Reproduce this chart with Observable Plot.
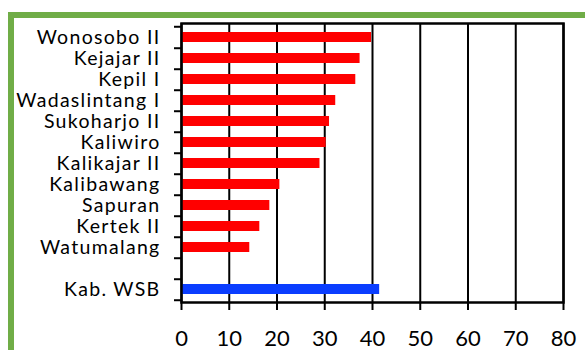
<!DOCTYPE html>
<html>
<head>
<meta charset="utf-8">
<script src="https://cdn.jsdelivr.net/npm/d3@7"></script>
<script src="https://cdn.jsdelivr.net/npm/@observablehq/plot@0.6"></script>
<style>
  html, body { margin: 0; padding: 0; background: #fff; overflow: hidden; }
  #wrap { position: relative; width: 585px; height: 350px; }
  #border { position: absolute; left: 7.5px; top: 12px; width: 700px; height: 500px;
            border-left: 6px solid #70AD47; border-top: 6px solid #70AD47; box-sizing: border-box; }
  #chart { position: absolute; left: 0; top: 0; }
  .ylab text { letter-spacing: 1.3px; }
</style>
</head>
<body>
<div id="wrap"><div id="border"></div><div id="chart"></div></div>
<script>
const districts = ["Wonosobo II", "Kejajar II", "Kepil I", "Wadaslintang I", "Sukoharjo II", "Kaliwiro", "Kalikajar II", "Kalibawang", "Sapuran", "Kertek II", "Watumalang"];
const districtValues = [39.8, 37.4, 36.5, 32.3, 31.0, 30.3, 29.0, 20.6, 18.5, 16.4, 14.3];
const regionLabel = "Kab. WSB";
const regionValue = 41.5;
const spacer = " ";
const xTicks = [0, 10, 20, 30, 40, 50, 60, 70, 80];

const data = districts.map((name, i) => ({name, value: districtValues[i], group: "district"}))
  .concat([{name: regionLabel, value: regionValue, group: "region"}]);
const yDomain = districts.concat([spacer, regionLabel]);

const W = 585, H = 350, mT = 23, mB = 48, mL = 181, mR = 22;
const step = (H - mT - mB) / yDomain.length;

const plot = Plot.plot({
  width: W, height: H,
  marginLeft: mL, marginRight: mR, marginTop: mT, marginBottom: mB,
  style: {fontFamily: "Lato, 'Open Sans', sans-serif", color: "black", background: "transparent", overflow: "visible"},
  x: {domain: [0, 80], label: null},
  y: {type: "band", domain: yDomain, paddingInner: 0.53, paddingOuter: 0.265, label: null},
  color: {domain: ["district", "region"], range: ["#ff0000", "#0a3dff"]},
  marks: [
    Plot.ruleX(xTicks, {stroke: "black", strokeWidth: 2}),
    Plot.barX(data, {x: "value", y: "name", fill: "group"}),
    Plot.frame({stroke: "black", strokeWidth: 2.5}),
    Plot.axisX({ticks: xTicks, tickSize: 8, tickPadding: 20, fontSize: 22, strokeWidth: 2, label: null}),
    Plot.axisY({tickSize: 7, dy: step / 2, tickFormat: () => "", strokeWidth: 2, label: null}),
    Plot.axisY([districts[0]], {tickSize: 7, dy: -step / 2, tickFormat: () => "", strokeWidth: 2, label: null}),
    Plot.axisY({tickSize: 0, tickPadding: 21, fontSize: 19.5, label: null, className: "ylab"})
  ]
});
document.getElementById("chart").appendChild(plot);
</script>
</body>
</html>
